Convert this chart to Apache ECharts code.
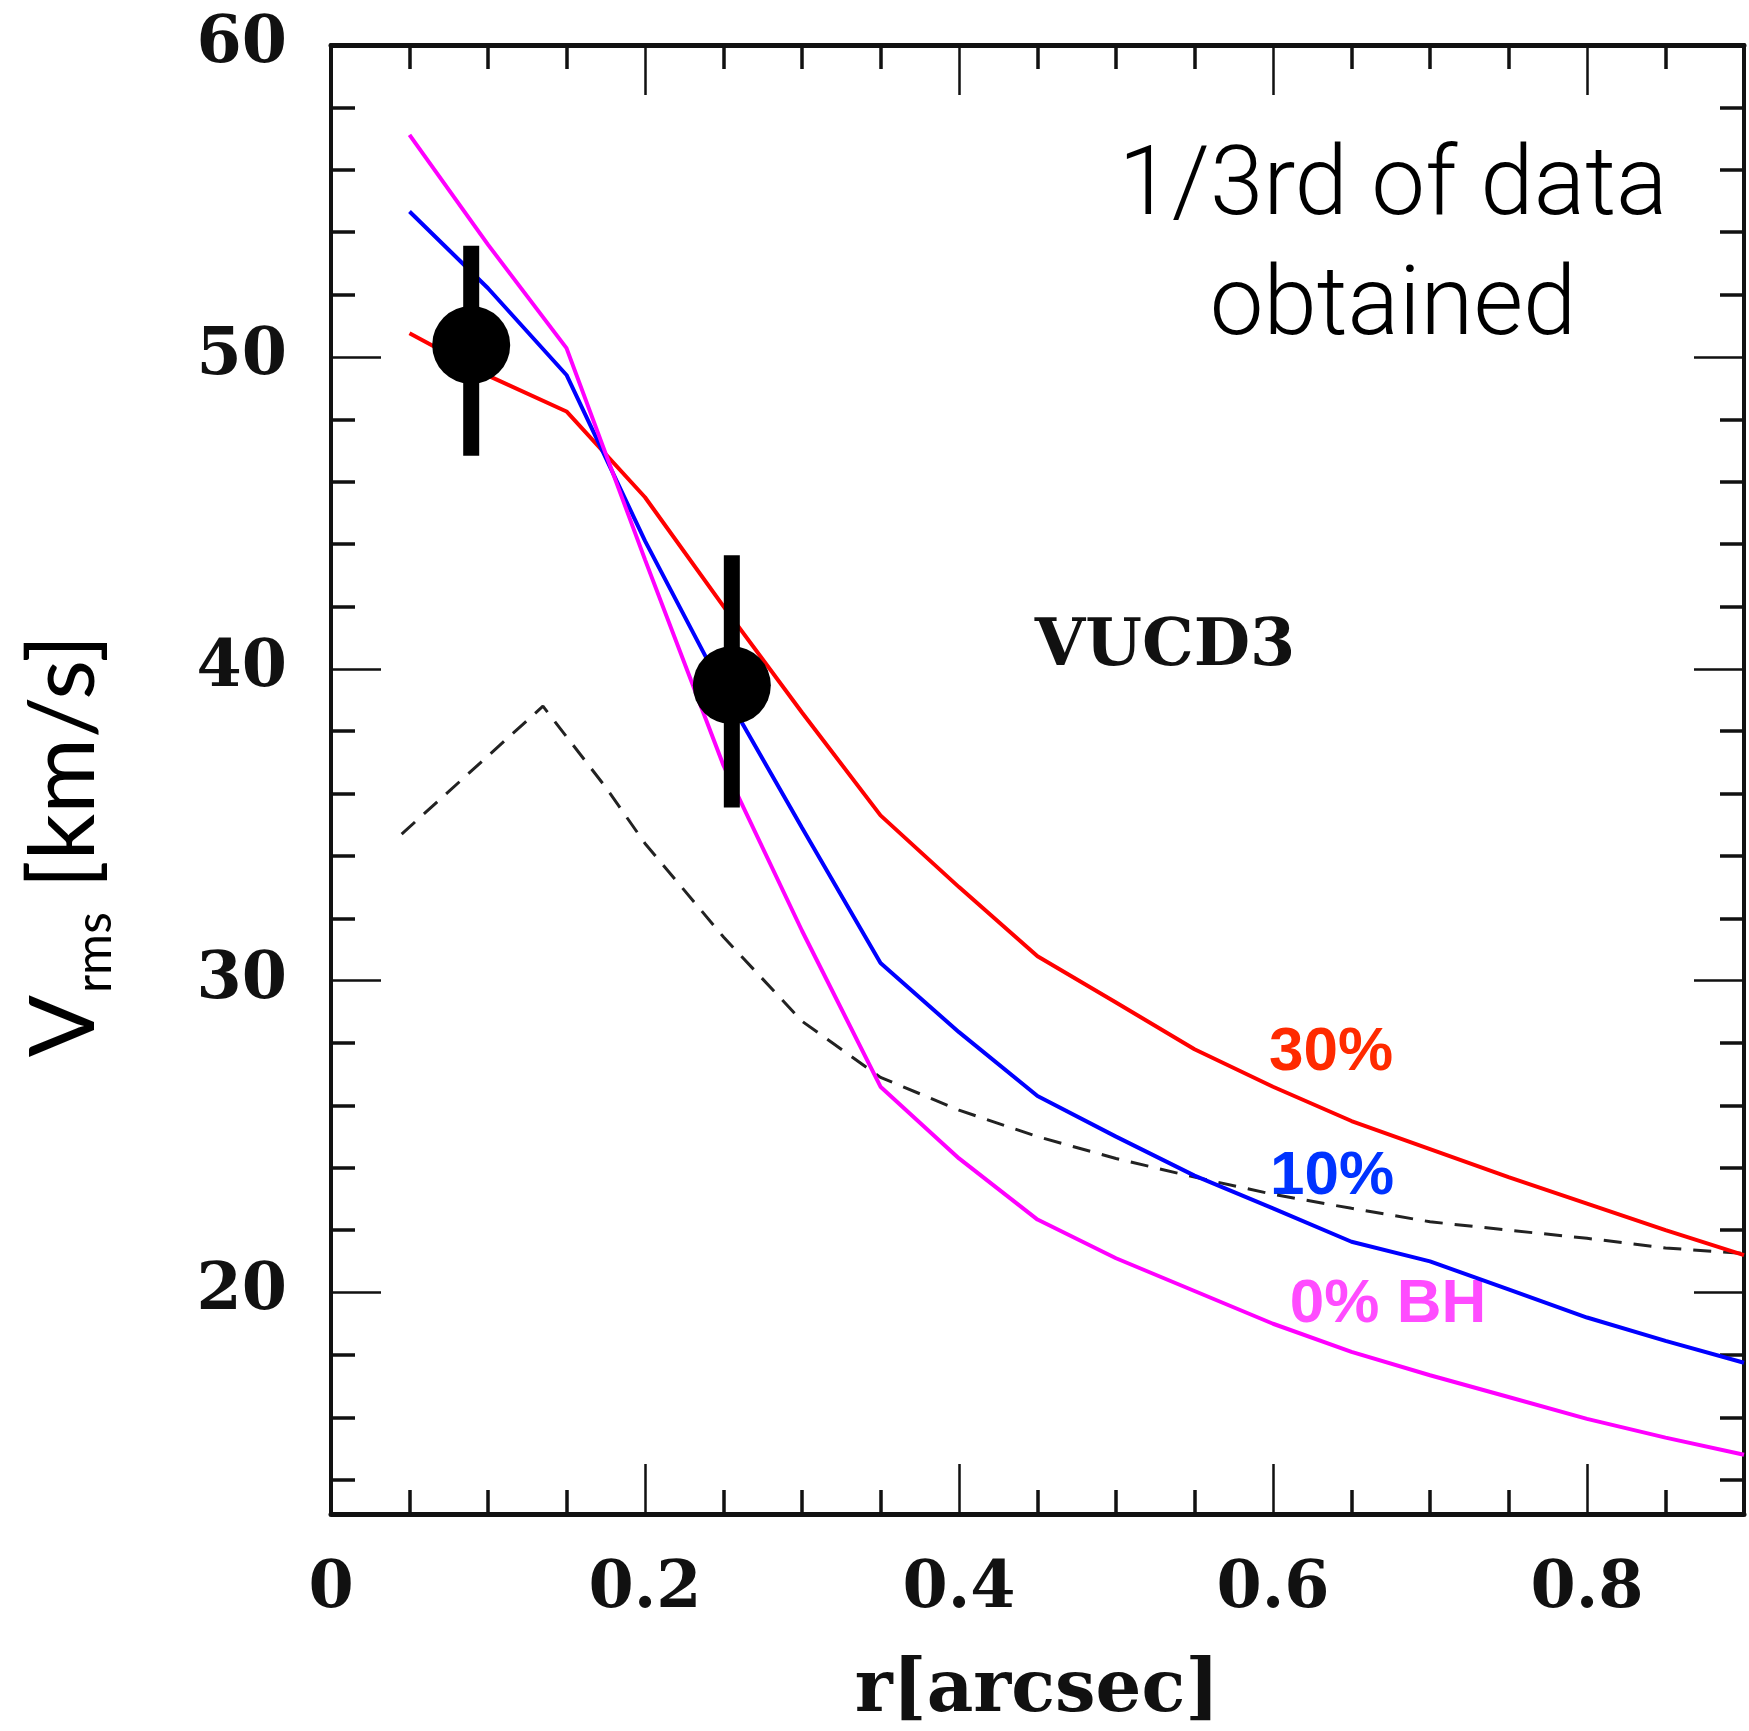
<!DOCTYPE html>
<html lang="en" style="height: 100%">

<head>
  <meta charset="utf-8">
</head>

<body style="height: 100%; margin: 0; background: #fff">
  <div id="container" style="width: 1749px; height: 1731px"></div>

  <script type="text/javascript" src="https://cdn.jsdelivr.net/npm/echarts@6/dist/echarts.min.js"></script>
  <script type="text/javascript">
    // model radii (arcsec) and Vrms of the three BH-mass models
    const rModel = [0.05, 0.1, 0.15, 0.2, 0.25, 0.3, 0.35, 0.4, 0.45, 0.5, 0.55, 0.6, 0.65, 0.7, 0.75, 0.8, 0.85, 0.9];
    const vrms30 = [50.76, 49.4, 48.25, 45.5, 42.0, 38.6, 35.3, 33.0, 30.78, 29.3, 27.8, 26.6, 25.5, 24.6, 23.7, 22.85, 22.0, 21.2];
    const vrms10 = [54.66, 52.2, 49.42, 44.1, 39.3, 34.9, 30.57, 28.35, 26.3, 25.0, 23.75, 22.7, 21.63, 21.0, 20.1, 19.2, 18.45, 17.75];
    const vrms0 = [57.12, 53.6, 50.28, 43.5, 36.9, 31.6, 26.6, 24.3, 22.34, 21.1, 20.05, 19.0, 18.1, 17.35, 16.65, 15.95, 15.35, 14.8];

    // dashed curve
    const rDash = [0.045, 0.135, 0.175, 0.2, 0.25, 0.3, 0.35, 0.4, 0.45, 0.5, 0.55, 0.6, 0.65, 0.7, 0.75, 0.8, 0.85, 0.9];
    const vrmsDash = [34.7, 38.8, 36.2, 34.4, 31.4, 28.7, 26.9, 25.85, 25.0, 24.3, 23.7, 23.15, 22.7, 22.27, 22.0, 21.74, 21.43, 21.25];

    // observed points
    const obsR = [0.0893, 0.2553];
    const obsV = [50.38, 39.47];
    const obsLo = [46.83, 35.55];
    const obsHi = [53.56, 43.64];

    // ticks
    const xLabels = [0, 0.2, 0.4, 0.6, 0.8];
    const xMajor = [0.2, 0.4, 0.6, 0.8];
    const xMinor = [0.05, 0.1, 0.15, 0.25, 0.3, 0.35, 0.45, 0.5, 0.55, 0.65, 0.7, 0.75, 0.85];
    const yLabels = [20, 30, 40, 50, 60];
    const yMajor = [20, 30, 40, 50];
    const yMinor = [14, 16, 18, 22, 24, 26, 28, 32, 34, 36, 38, 42, 44, 46, 48, 52, 54, 56, 58];

    var dom = document.getElementById('container');
    var myChart = echarts.init(dom, null, { renderer: 'canvas' });

    const pair = (xs, ys) => xs.map((x, i) => [x, ys[i]]);
    const labelFont = {
      fontFamily: 'DejaVu Serif',
      fontWeight: 'bold',
      fontSize: 65,
      color: '#111'
    };

    // grid 0 carries the frame, major ticks and labels; grid 1 (same box) carries the minor ticks
    function xAx(grid, pos, ticks, len, width, showLine, labels) {
      return {
        type: 'value', gridIndex: grid, position: pos, min: 0, max: 0.9,
        axisLine: { show: showLine, onZero: false, lineStyle: { color: '#111', width: 5 } },
        axisTick: { show: true, inside: true, customValues: ticks, length: len, lineStyle: { color: '#111', width: width } },
        axisLabel: labels ? Object.assign({ show: true, customValues: labels, margin: 44 }, labelFont) : { show: false },
        splitLine: { show: false }
      };
    }
    function yAx(grid, pos, ticks, len, width, showLine, labels) {
      return {
        type: 'value', gridIndex: grid, position: pos, min: 12.9, max: 60,
        axisLine: { show: showLine, onZero: false, lineStyle: { color: '#111', width: 4 } },
        axisTick: { show: true, inside: true, customValues: ticks, length: len, lineStyle: { color: '#111', width: width } },
        axisLabel: labels ? Object.assign({ show: true, customValues: labels, margin: 44 }, labelFont) : { show: false },
        splitLine: { show: false }
      };
    }

    var box = { left: 331, top: 45, right: 5, bottom: 217 };

    var option = {
      animation: false,
      backgroundColor: '#fff',
      grid: [Object.assign({}, box), Object.assign({}, box)],
      xAxis: [
        xAx(0, 'bottom', xMajor, 50, 2.5, true, xLabels),
        xAx(0, 'top', xMajor, 50, 2.5, true, null),
        xAx(1, 'bottom', xMinor, 24, 3.5, false, null),
        xAx(1, 'top', xMinor, 24, 3.5, false, null)
      ],
      yAxis: [
        yAx(0, 'left', yMajor, 50, 2.5, true, yLabels),
        yAx(0, 'right', yMajor, 50, 2.5, true, null),
        yAx(1, 'left', yMinor, 24, 3.5, false, null),
        yAx(1, 'right', yMinor, 24, 3.5, false, null)
      ],
      series: [
        {
          name: 'dashed', type: 'line', showSymbol: false,
          lineStyle: { color: '#222', width: 3, type: [18, 12] },
          data: pair(rDash, vrmsDash)
        },
        {
          name: '30%', type: 'line', showSymbol: false,
          lineStyle: { color: '#ff0000', width: 4 },
          data: pair(rModel, vrms30)
        },
        {
          name: '10%', type: 'line', showSymbol: false,
          lineStyle: { color: '#0000ff', width: 4 },
          data: pair(rModel, vrms10)
        },
        {
          name: '0% BH', type: 'line', showSymbol: false,
          lineStyle: { color: '#ff00ff', width: 4 },
          data: pair(rModel, vrms0)
        },
        {
          name: 'errors', type: 'custom',
          renderItem: function (params, api) {
            var top = api.coord([api.value(0), api.value(2)]);
            var bot = api.coord([api.value(0), api.value(1)]);
            return {
              type: 'rect',
              shape: { x: top[0] - 8, y: top[1], width: 16, height: bot[1] - top[1] },
              style: { fill: '#000' }
            };
          },
          encode: { x: 0, y: [1, 2] },
          data: obsR.map((r, i) => [r, obsLo[i], obsHi[i]]),
          z: 5
        },
        {
          name: 'data', type: 'scatter', symbol: 'circle', symbolSize: 78,
          itemStyle: { color: '#000', opacity: 1 },
          data: pair(obsR, obsV),
          z: 6
        }
      ],
      graphic: [
        {
          type: 'text', x: 64, y: 846, rotation: Math.PI / 2,
          style: {
            text: '{v|V}{s|rms}{n| [km/s]}',
            align: 'center', verticalAlign: 'middle',
            rich: {
              v: { fontFamily: 'Lato', fontSize: 92, fill: '#000', verticalAlign: 'bottom' },
              s: { fontFamily: 'Lato', fontSize: 50, fill: '#000', verticalAlign: 'bottom', padding: [0, 0, -10, 2] },
              n: { fontFamily: 'Lato', fontSize: 92, fill: '#000', verticalAlign: 'bottom' }
            }
          }
        },
        {
          type: 'text', x: 1037, y: 1692,
          style: {
            text: 'r[arcsec]', fontFamily: 'DejaVu Serif', fontWeight: 'bold', fontSize: 72,
            fill: '#111', align: 'center', verticalAlign: 'middle'
          }
        },
        {
          type: 'text', x: 1393, y: 250,
          style: {
            text: '1/3rd of data\nobtained', fontFamily: 'Roboto', fontWeight: 300,
            fontSize: 96, lineHeight: 120, fill: '#000', align: 'center', verticalAlign: 'middle'
          }
        },
        {
          type: 'text', x: 1165, y: 648,
          style: {
            text: 'VUCD3', fontFamily: 'DejaVu Serif', fontWeight: 'bold', fontSize: 65,
            fill: '#111', align: 'center', verticalAlign: 'middle'
          }
        },
        {
          type: 'text', x: 1331, y: 1053,
          style: {
            text: '30%', fontFamily: 'Liberation Sans', fontWeight: 'bold', fontSize: 62,
            fill: '#ff2a00', align: 'center', verticalAlign: 'middle'
          }
        },
        {
          type: 'text', x: 1332, y: 1177,
          style: {
            text: '10%', fontFamily: 'Liberation Sans', fontWeight: 'bold', fontSize: 62,
            fill: '#0033ff', align: 'center', verticalAlign: 'middle'
          }
        },
        {
          type: 'text', x: 1388, y: 1305,
          style: {
            text: '0% BH', fontFamily: 'Liberation Sans', fontWeight: 'bold', fontSize: 62,
            fill: '#ff4cff', align: 'center', verticalAlign: 'middle'
          }
        }
      ]
    };

    myChart.setOption(option);
    window.addEventListener('resize', myChart.resize);
  </script>
</body>

</html>
